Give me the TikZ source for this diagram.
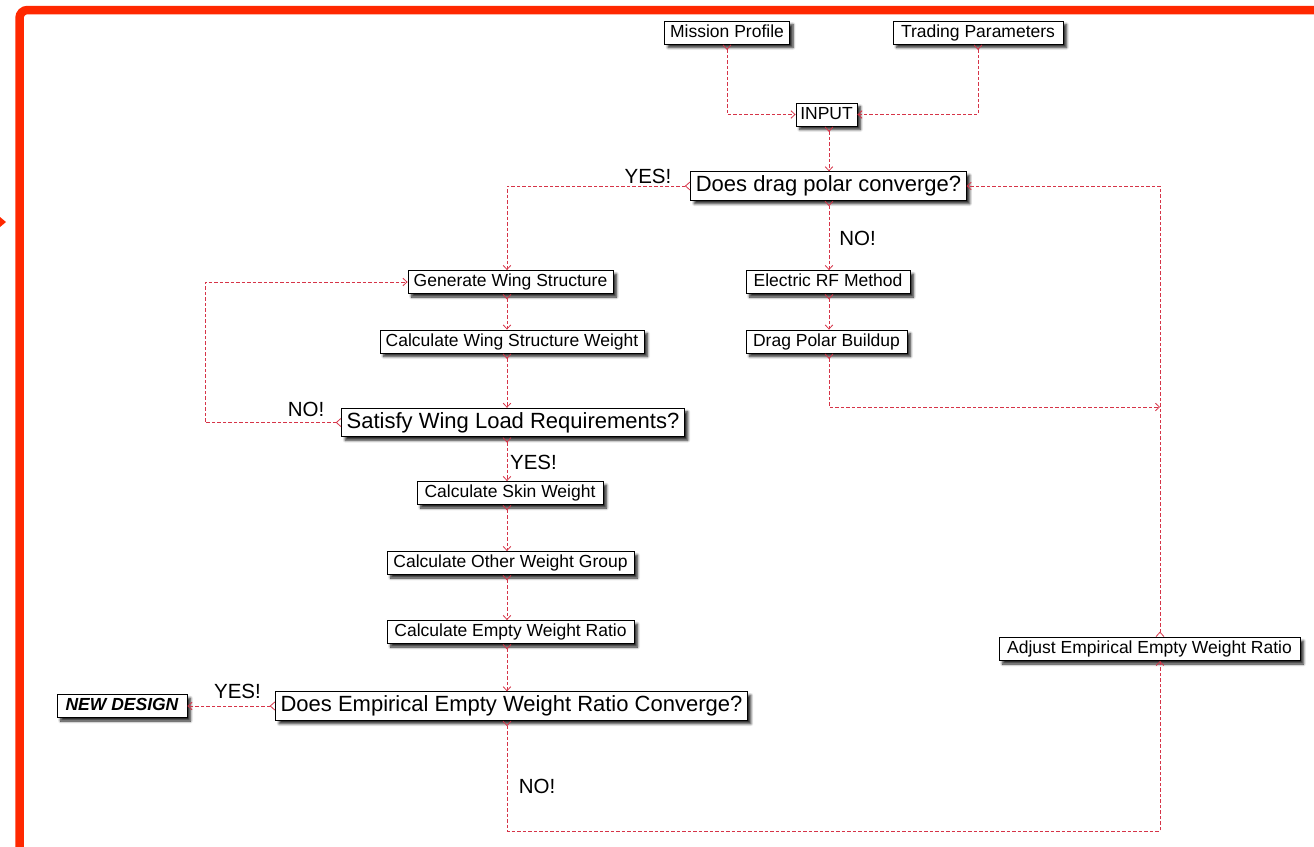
\documentclass[tikz,border=0pt]{standalone}
\usepackage{fontspec}
\setmainfont{Liberation Sans}
\usetikzlibrary{arrows.meta,shadows,shadows.blur}
\definecolor{framered}{RGB}{255,40,0}
\definecolor{linkred}{RGB}{214,52,72}
\tikzset{
  box/.style={draw=black, line width=0.9pt, fill=white,
    font=\fontsize{17.5}{20}\selectfont, text height=12.5pt, text depth=3.5pt,
    inner xsep=3pt, inner ysep=3.5pt,
    blur shadow={shadow xshift=3.5pt, shadow yshift=-3.5pt, shadow blur steps=6,
      shadow blur radius=2.5pt, shadow opacity=85}},
  decide/.style={box, font=\fontsize{22}{26}\selectfont, text height=16pt, text depth=4.5pt,
    inner ysep=4pt, inner xsep=5pt},
  lbl/.style={font=\fontsize{20.5}{24}\selectfont, inner sep=0pt},
  link/.style={draw=linkred, line width=0.8pt, dash pattern=on 3.5pt off 2pt,
    arrows={Straight Barb[reversed,length=4.5pt,width=8pt]-Straight Barb[length=4pt,width=7.5pt]}},
}
\begin{document}
\begin{tikzpicture}[x=1pt,y=-1pt]
\useasboundingbox (0,0) rectangle (1314,846);
\begin{scope}
\clip (0,0) rectangle (1314,846);
\draw[framered, line width=8.5pt, rounded corners=8pt] (19.5,900) -- (19.5,10) -- (1400,10);
\fill[framered] (-6,212) -- (6,222) -- (-6,232) -- cycle;
\end{scope}

\coordinate (c) at (507,0);
\coordinate (rc) at (829,0);
\coordinate (ac) at (1160,0);
\coordinate (j) at (1160,407);
\coordinate (b) at (1160,831);

\node[box, minimum width=125pt] (mp) at (727,32.5) {Mission Profile};
\node[box, minimum width=170pt] (tp) at (978,32.5) {Trading Parameters};
\node[box, minimum width=61pt] (in) at (826.5,114.5) {INPUT};
\node[decide, minimum width=275pt] (dp) at (828.5,186) {Does drag polar converge?};
\node[box, minimum width=205pt] (gw) at (510.5,282) {Generate Wing Structure};
\node[box, minimum width=164pt] (rf) at (828,282) {Electric RF Method};
\node[box, minimum width=264pt] (cw) at (512,341.5) {Calculate Wing Structure Weight};
\node[box, minimum width=161pt] (db) at (826.5,341.5) {Drag Polar Buildup};
\node[decide, minimum width=342pt] (sw) at (513,422.5) {Satisfy Wing Load Requirements?};
\node[box, minimum width=186pt] (cs) at (510,493) {Calculate Skin Weight};
\node[box, minimum width=247pt] (co) at (510.5,563) {Calculate Other Weight Group};
\node[box, minimum width=247pt] (ce) at (510.5,632) {Calculate Empty Weight Ratio};
\node[decide, minimum width=469pt] (de) at (511.5,706) {Does Empirical Empty Weight Ratio Converge?};
\node[box, minimum width=130pt, font=\fontsize{17.5}{20}\selectfont\bfseries\itshape] (nd) at (122,706) {NEW DESIGN};
\node[box, minimum width=301pt] (ad) at (1149.5,649) {Adjust Empirical Empty Weight Ratio};

\draw[link] (mp.south) |- (in.west);
\draw[link] (tp.south) |- (in.east);
\draw[link] (in.south -| rc) -- (dp.north -| rc);
\draw[link] (dp.west) -| (gw.north -| c);
\draw[link] (dp.south -| rc) -- (rf.north -| rc);
\draw[link] (rf.south -| rc) -- (db.north -| rc);
\draw[link] (db.south -| rc) |- (j);
\draw[link] (ad.north -| ac) |- (dp.east);
\draw[link] (de.south -| c) |- (b) -- (ad.south -| ac);
\draw[link] (gw.south -| c) -- (cw.north -| c);
\draw[link] (cw.south -| c) -- (sw.north -| c);
\draw[link] (sw.south -| c) -- (cs.north -| c);
\draw[link] (cs.south -| c) -- (co.north -| c);
\draw[link] (co.south -| c) -- (ce.north -| c);
\draw[link] (ce.south -| c) -- (de.north -| c);
\draw[link] (sw.west) -- ++(-136,0) |- (gw.west);
\draw[link] (de.west) -- (nd.east);

\node[lbl] (l1) at (648,176) {YES!};
\node[lbl] (l2) at (857.5,238) {NO!};
\node[lbl] (l3) at (306,409) {NO!};
\node[lbl] (l4) at (533.5,462) {YES!};
\node[lbl] (l5) at (237.5,691) {YES!};
\node[lbl] (l6) at (537,786) {NO!};
\end{tikzpicture}
\end{document}
